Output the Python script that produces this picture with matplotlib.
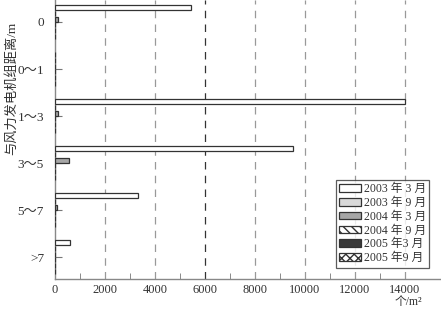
import matplotlib.pyplot as plt
import numpy as np

# 距离分组与调查时间
distances = ['0', '0～1', '1～3', '3～5', '5～7', '>7']
series = ['2003 年 3 月', '2003 年 9 月', '2004 年 3 月', '2004 年 9 月', '2005 年3 月', '2005 年9 月']

# 密度 (个/m2)
d2003_3 = [5450, 0, 14000, 9500, 3300, 600]
d2003_9 = [0, 0, 0, 0, 0, 0]
d2004_3 = [100, 0, 100, 550, 80, 0]
d2004_9 = [0, 0, 0, 0, 0, 0]
d2005_3 = [0, 0, 0, 0, 0, 0]
d2005_9 = [0, 0, 0, 0, 0, 0]
values = [d2003_3, d2003_9, d2004_3, d2004_9, d2005_3, d2005_9]

xticks = [0, 2000, 4000, 6000, 8000, 10000, 12000, 14000]

serif = ['Liberation Serif', 'Noto Sans CJK SC']
plt.rcParams['font.family'] = serif

fills = ['white', '#d9d9d9', '#a6a6a6', 'white', '#3a3a3a', 'white']
hatches = [None, None, None, '\\\\\\\\', None, 'xxxx']

fig = plt.figure(figsize=(4.41, 3.09), dpi=100)
ax = fig.add_axes([0.125, 0.097, 0.875, 0.903])

y = np.arange(len(distances))
slot = 0.122
for i, vals in enumerate(values):
    ax.barh(y + (i - 2.5) * slot, vals, height=0.105, color=fills[i],
            edgecolor='#333333', linewidth=0.9, hatch=hatches[i],
            label=series[i], zorder=3)

for xv in xticks[1:]:
    ax.axvline(xv, color='#333333' if xv == 6000 else '#999999',
               linestyle=(0, (6, 5)), linewidth=0.9, zorder=1)

ax.set_xlim(0, 15440)
ax.set_ylim(5.468, -0.468)
ax.set_yticks(y)
ax.set_yticklabels(distances, fontsize=9.5, color='#333333')
ax.set_xticks(xticks)
ax.set_xticklabels([str(v) for v in xticks], fontsize=9, color='#333333')
ax.set_xticks(np.arange(1000, 15000, 2000), minor=True)
ax.tick_params(axis='both', which='both', direction='in', color='#777777')
ax.tick_params(axis='y', length=5, pad=8)
ax.tick_params(axis='x', which='major', length=0, pad=3.5)
ax.tick_params(axis='x', which='minor', length=4)

for s in ['top', 'right']:
    ax.spines[s].set_visible(False)
for s in ['left', 'bottom']:
    ax.spines[s].set_color('#888888')
    ax.spines[s].set_linewidth(1.0)

fig.text(12 / 441, 1 - 88 / 309, '与风力发电机组距离/m', rotation=90,
         ha='center', va='center', fontsize=9.5, color='#333333')
fig.text(408 / 441, 1 - 302.5 / 309, '个/m²', ha='center', va='center',
         fontsize=8.5, color='#333333')

leg = ax.legend(loc='lower right', bbox_to_anchor=(0.985, 0.02), fontsize=8.5,
                frameon=True, fancybox=False, edgecolor='#333333',
                handlelength=1.8, handleheight=0.6, handletextpad=0.25,
                labelspacing=0.15, borderpad=0.3)
leg.get_frame().set_linewidth(0.9)
for t in leg.get_texts():
    t.set_color('#333333')

fig.savefig('out.png', dpi=100)
